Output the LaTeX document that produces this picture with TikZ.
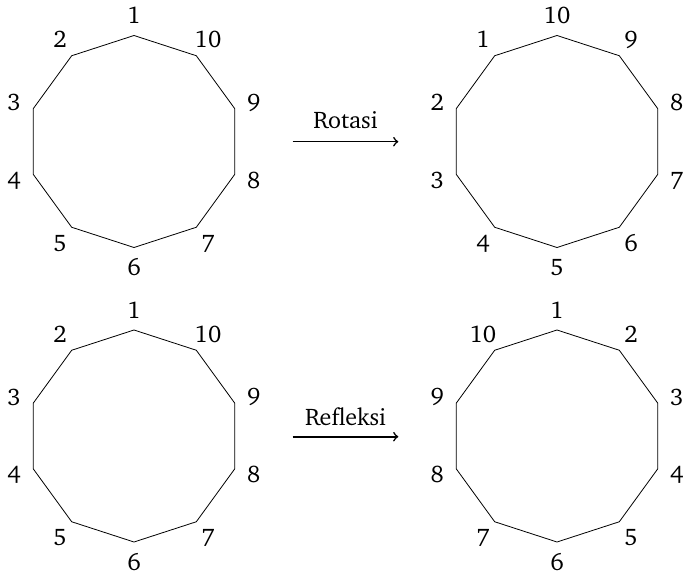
\documentclass[tikz,border=0pt]{standalone}
\usepackage[T1]{fontenc}
\usepackage{charter}
\newcommand\mydecagon[4]{%
  \begin{scope}[shift={(#2,#3)}]
    \coordinate (#1) at (0,0);
    \foreach \k in {1,...,10}{\coordinate (#1v\k) at ({90+36*(\k-1)}:106);}
    \draw[poly] (#1v1) -- (#1v2) -- (#1v3) -- (#1v4) -- (#1v5) -- (#1v6) -- (#1v7) -- (#1v8) -- (#1v9) -- (#1v10) -- cycle;
    \foreach \t [count=\i] in {#4}{\node[lbl] (#1l\i) at ({90+36*(\i-1)}:126) {\t};}
  \end{scope}}
\begin{document}
\begin{tikzpicture}[x=0.5pt,y=0.5pt,
  lbl/.style={font=\fontsize{12}{14}\selectfont, inner sep=0pt},
  poly/.style={draw=black, line width=0.4pt, line join=miter},
  conn/.style={->, line width=0.8pt}]
\useasboundingbox (0,0) rectangle (685,574);
\mydecagon{tl}{134}{432.5}{1,2,3,4,5,6,7,8,9,10}
\mydecagon{tr}{557}{432.5}{10,1,2,3,4,5,6,7,8,9}
\mydecagon{bl}{134}{138}{1,2,3,4,5,6,7,8,9,10}
\mydecagon{br}{557}{138}{1,10,9,8,7,6,5,4,3,2}
\coordinate (a1s) at (292.7,432.3);
\coordinate (a1e) at (398.3,432.3);
\draw[conn] (a1s) -- (a1e);
\node[lbl, anchor=base] (rot) at (345.5,445) {Rotasi};
\coordinate (a2s) at (292.7,137.3);
\coordinate (a2e) at (398.3,137.3);
\draw[conn] (a2s) -- (a2e);
\node[lbl, anchor=base] (ref) at (345.5,149) {Refleksi};
\end{tikzpicture}
\end{document}
